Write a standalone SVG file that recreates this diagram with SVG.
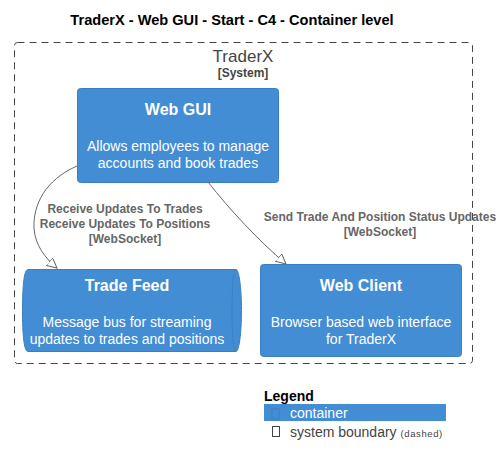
<svg xmlns="http://www.w3.org/2000/svg" width="502" height="465" viewBox="0 0 502 465">
<defs>
<style>
text{font-family:"Liberation Sans",Arial,sans-serif}
.node{fill:#438DD5;stroke:#3C7FC0;stroke-width:1}
.nt{fill:#fff;font-weight:bold;font-size:16px;text-anchor:middle}
.nd{fill:#fff;font-size:14px;text-anchor:middle}
.el{fill:#666;font-weight:bold;font-size:12px;text-anchor:middle}
.edge{fill:none;stroke:#666;stroke-width:1}
</style>
<marker id="arr" markerWidth="12" markerHeight="12" refX="10" refY="5" orient="auto" markerUnits="userSpaceOnUse" viewBox="0 0 12 12">
<path d="M0,0 L10,5 L0,10 Z" fill="#fff" stroke="#666" stroke-width="1"/>
</marker>
</defs>
<rect width="502" height="465" fill="#fff"/>
<text x="232" y="25" font-size="14.6" font-weight="bold" text-anchor="middle" fill="#000">TraderX - Web GUI - Start - C4 - Container level</text>

<g id="boundary">
<rect x="14.5" y="42.5" width="458" height="321" rx="3" fill="none" stroke="#444" stroke-width="1" stroke-dasharray="7,5"/>
<text x="243" y="62" font-size="17" text-anchor="middle" fill="#444">TraderX</text>
<text x="243" y="77" font-size="12" font-weight="bold" text-anchor="middle" fill="#444">[System]</text>
</g>

<g id="webgui">
<rect class="node" x="77.5" y="88.5" width="201" height="94" rx="3"/>
<text class="nt" x="178" y="115">Web GUI</text>
<text class="nd" x="178" y="151">Allows employees to manage</text>
<text class="nd" x="178" y="168">accounts and book trades</text>
</g>

<g id="tradefeed">
<path class="node" d="M28,269.5 L236,269.5 C239,269.5 241.5,288 241.5,310.5 C241.5,333 239,351.5 236,351.5 L28,351.5 C24,351.5 22.5,335 22.5,310.5 C22.5,286 24,269.5 28,269.5 Z"/>
<path d="M236,269.5 C233.5,269.5 232,288 232,310.5 C232,333 233.5,351.5 236,351.5" fill="none" stroke="#3C7FC0" stroke-width="1"/>
<text class="nt" x="127" y="291">Trade Feed</text>
<text class="nd" x="127" y="327">Message bus for streaming</text>
<text class="nd" x="127" y="344">updates to trades and positions</text>
</g>

<g id="webclient">
<rect class="node" x="260.5" y="264.5" width="201" height="92" rx="3"/>
<text class="nt" x="361" y="291">Web Client</text>
<text class="nd" x="361" y="327">Browser based web interface</text>
<text class="nd" x="361" y="344">for TraderX</text>
</g>

<g id="connectors">
<path class="edge" d="M77,166 C45,180 33,205 34,228 C35,245 45,258 57,268" marker-end="url(#arr)"/>
<text class="el" x="125" y="213">Receive Updates To Trades</text>
<text class="el" x="125" y="228">Receive Updates To Positions</text>
<text class="el" x="125" y="243">[WebSocket]</text>
<path class="edge" d="M208,182 C230,210 258,240 286,264" marker-end="url(#arr)"/>
<text class="el" x="380" y="221">Send Trade And Position Status Updates</text>
<text class="el" x="380" y="236">[WebSocket]</text>
</g>

<g id="legend">
<text x="264" y="401" font-size="14" font-weight="bold" fill="#000">Legend</text>
<rect x="264" y="404" width="182" height="17" fill="#438DD5"/>
<rect x="272" y="409" width="7" height="10" fill="none" stroke="#3C7FC0" stroke-width="1"/>
<text x="290" y="418" font-size="14" fill="#fff">container</text>
<rect x="272.5" y="426.5" width="7" height="10" fill="none" stroke="#444" stroke-width="1"/>
<text x="290" y="437" font-size="14" fill="#444">system boundary <tspan font-size="9.5" letter-spacing="0.6">(dashed)</tspan></text>
</g>
</svg>
